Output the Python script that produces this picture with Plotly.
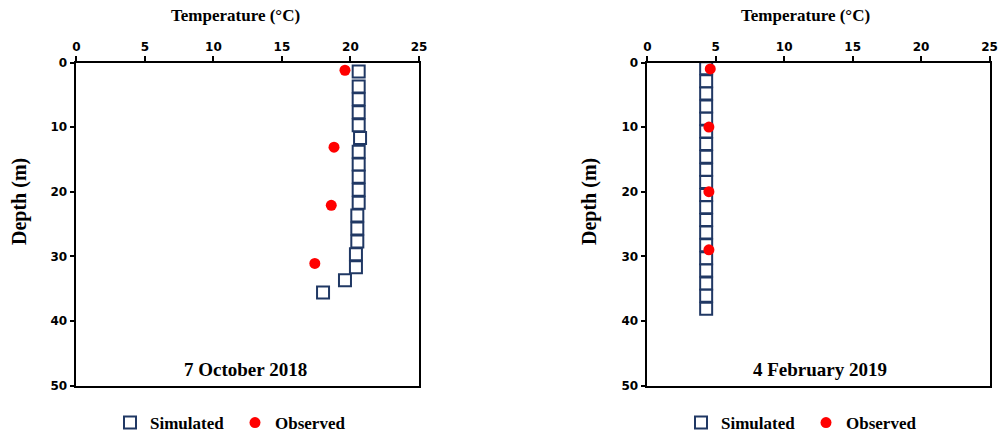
import plotly.graph_objects as go

# ---- data ----
oct_sim_depth = [1.4, 3.7, 5.7, 7.7, 9.7, 11.7, 13.8, 15.8, 17.7, 19.7, 21.7, 23.7, 25.7, 27.7, 29.7, 31.7, 33.7, 35.6]
oct_sim_temp = [20.6, 20.6, 20.6, 20.6, 20.6, 20.7, 20.6, 20.6, 20.6, 20.6, 20.6, 20.5, 20.5, 20.5, 20.4, 20.4, 19.6, 18.0]
oct_obs_depth = [1.2, 13.1, 22.1, 31.1]
oct_obs_temp = [19.6, 18.8, 18.6, 17.4]

feb_sim_depth = [0.9, 2.9, 4.8, 6.8, 8.7, 10.7, 12.6, 14.6, 16.6, 18.5, 20.5, 22.4, 24.4, 26.3, 28.3, 30.3, 32.2, 34.2, 36.1, 38.1]
feb_sim_temp = [4.3, 4.3, 4.3, 4.3, 4.3, 4.3, 4.3, 4.3, 4.3, 4.3, 4.3, 4.3, 4.3, 4.3, 4.3, 4.3, 4.3, 4.3, 4.3, 4.3]
feb_obs_depth = [1.0, 10.0, 20.0, 29.0]
feb_obs_temp = [4.6, 4.5, 4.5, 4.5]

x_ticks = [0, 5, 10, 15, 20, 25]
y_ticks = [0, 10, 20, 30, 40, 50]
panel_titles = ["7 October 2018", "4 February 2019"]
x_title = "Temperature (°C)"
y_title = "Depth (m)"

W, H = 1002, 437
SIM_COLOR = "#203864"
OBS_COLOR = "#FF0000"
SERIF = "Liberation Serif"
SANS = "DejaVu Sans"

fig = go.Figure()


def px_x(p):
    return p / W


def px_y(p):
    return 1 - p / H


panels = [
    dict(xa="x", ya="y", sd=oct_sim_depth, st=oct_sim_temp, od=oct_obs_depth, ot=oct_obs_temp, legend="legend"),
    dict(xa="x2", ya="y2", sd=feb_sim_depth, st=feb_sim_temp, od=feb_obs_depth, ot=feb_obs_temp, legend="legend2"),
]

for p in panels:
    fig.add_trace(go.Scatter(
        x=p["st"], y=p["sd"], mode="markers", name="Simulated",
        xaxis=p["xa"], yaxis=p["ya"], legend=p["legend"], cliponaxis=False,
        marker=dict(symbol="square", size=12, color="white",
                    line=dict(color=SIM_COLOR, width=2)),
    ))
    fig.add_trace(go.Scatter(
        x=p["ot"], y=p["od"], mode="markers", name="Observed",
        xaxis=p["xa"], yaxis=p["ya"], legend=p["legend"], cliponaxis=False,
        marker=dict(symbol="circle", size=11, color=OBS_COLOR, line=dict(width=0)),
    ))

ydom = [px_y(385.5), px_y(62.5)]
xdoms = [[px_x(76.3), px_x(419)], [px_x(647.3), px_x(989.5)]]

tickfont = dict(family=SANS, size=12, color="black", weight="bold")
axis_common_x = dict(
    range=[0, 25], tickvals=x_ticks, side="top", showgrid=False, zeroline=False,
    showline=True, linecolor="black", linewidth=1.5, mirror=True,
    ticks="outside", ticklen=5, tickwidth=1.5, tickcolor="black",
    tickfont=tickfont, fixedrange=True, automargin=False,
)
axis_common_y = dict(
    range=[50, 0], tickvals=y_ticks, showgrid=False, zeroline=False,
    showline=True, linecolor="black", linewidth=1.5, mirror=True,
    ticks="outside", ticklen=5, tickwidth=1.5, tickcolor="black",
    tickfont=tickfont, fixedrange=True, automargin=False,
)

legend_font = dict(family=SERIF, size=17, color="black", weight="bold")
fig.update_layout(
    width=W, height=H,
    margin=dict(l=0, r=0, t=0, b=0, autoexpand=False),
    paper_bgcolor="white", plot_bgcolor="white",
    xaxis=dict(domain=xdoms[0], anchor="y", **axis_common_x),
    yaxis=dict(domain=ydom, anchor="x", **axis_common_y),
    xaxis2=dict(domain=xdoms[1], anchor="y2", **axis_common_x),
    yaxis2=dict(domain=ydom, anchor="x2", **axis_common_y),
    legend=dict(orientation="h", x=px_x(110), y=px_y(423), xanchor="left", yanchor="middle",
                font=legend_font, itemwidth=30, entrywidth=80, bgcolor="rgba(0,0,0,0)"),
    legend2=dict(orientation="h", x=px_x(681), y=px_y(423), xanchor="left", yanchor="middle",
                 font=legend_font, itemwidth=30, entrywidth=80, bgcolor="rgba(0,0,0,0)"),
    showlegend=True,
)

annotations = []
for cx, ylab_x, title, tx in [(235, 19, panel_titles[0], 245), (805, 589, panel_titles[1], 820)]:
    annotations.append(dict(text=x_title, x=px_x(cx), y=px_y(16), xref="paper", yref="paper",
                            showarrow=False, xanchor="center", yanchor="middle",
                            font=dict(family=SERIF, size=17, color="black", weight="bold")))
    annotations.append(dict(text=y_title, x=px_x(ylab_x), y=px_y(202), xref="paper", yref="paper",
                            showarrow=False, xanchor="center", yanchor="middle", textangle=-90,
                            font=dict(family=SERIF, size=20, color="black", weight="bold")))
    annotations.append(dict(text=title, x=px_x(tx), y=px_y(369), xref="paper", yref="paper",
                            showarrow=False, xanchor="center", yanchor="middle",
                            font=dict(family=SERIF, size=19, color="black", weight="bold")))
fig.update_layout(annotations=annotations)

fig.write_html("out.html", config={"displayModeBar": False},
               post_script="document.body.style.margin='0px';")
